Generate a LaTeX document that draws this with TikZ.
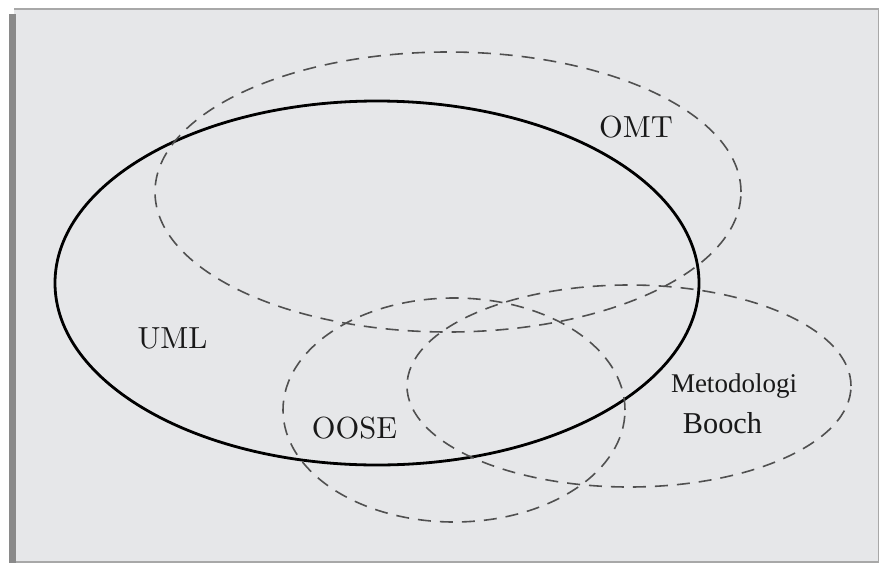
\documentclass[tikz,border=0pt]{standalone}
\usepackage{fontspec}
\newfontfamily\timesfont{Liberation Serif}
\usetikzlibrary{shapes.geometric}
\definecolor{vennpaper}{HTML}{E6E7E9}
\definecolor{vennedge}{HTML}{A8A8A8}
\definecolor{vennbar}{HTML}{8A8A8A}
\definecolor{venndash}{HTML}{505050}

\begin{document}
\begin{tikzpicture}[
  x=1pt, y=-1pt,
  set/.style={ellipse, draw=venndash, line width=1.6pt, dash pattern=on 13pt off 9pt, inner sep=0pt},
  mainset/.style={ellipse, draw=black, line width=2.8pt, inner sep=0pt},
  lbl/.style={font=\normalsize, scale=3.05, anchor=base, inner sep=0pt, text=black!90},
  tlbl/.style={font=\timesfont\normalsize, scale=2.7, anchor=base, inner sep=0pt, text=black!90}
]
\useasboundingbox (0,0) rectangle (879,563);
% paper and its frame
\fill[vennpaper] (14,9) rectangle (879,562);
\draw[vennedge, line width=2pt] (14,9) -- (879,9);
\draw[vennedge, line width=2pt] (14,561.5) -- (879,561.5);
\draw[vennedge, line width=1pt] (878.5,9) -- (878.5,562);
\fill[vennbar] (9,14) rectangle (16,563);

% the four sets
\node[mainset, minimum width=644pt, minimum height=364pt] (uml) at (377,283) {};
\node[set, minimum width=586pt, minimum height=280pt] (omt) at (448,192) {};
\node[set, minimum width=342pt, minimum height=224pt] (oose) at (454,410) {};
\node[set, minimum width=444pt, minimum height=202pt] (booch) at (629,386) {};

% labels
\node[lbl] (umllbl) at (172.5,348) {UML};
\node[lbl] (omtlbl) at (636,137) {OMT};
\node[lbl] (ooselbl) at (354.5,438) {OOSE};
\node[tlbl] (metlbl) at (734,392) {Metodologi};
\node[tlbl, scale=3.03/2.7] (boochlbl) at (722.5,433) {Booch};
\end{tikzpicture}
\end{document}
